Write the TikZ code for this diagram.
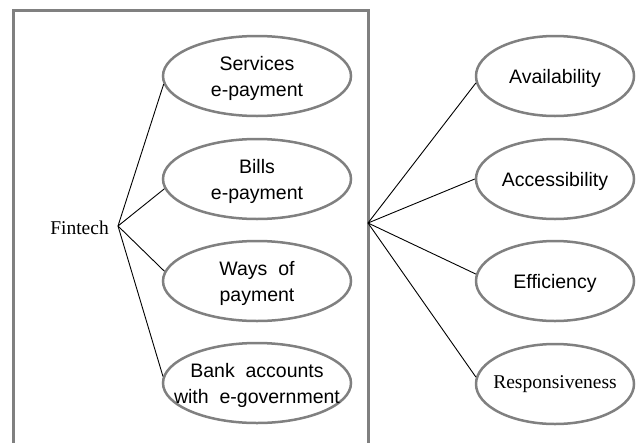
\documentclass[tikz,border=0pt]{standalone}
\usepackage{fontspec}
\setmainfont{Liberation Serif}
\newfontfamily\arialf{Liberation Sans}
\usetikzlibrary{shapes.geometric}
\definecolor{bordergray}{RGB}{128,128,128}
\begin{document}
\begin{tikzpicture}[x=1pt,y=-1pt,
  ell/.style={ellipse, draw=bordergray, line width=2.5pt, inner sep=0pt},
  leftell/.style={ell, minimum width=188pt, minimum height=80pt},
  rightell/.style={ell, minimum width=158pt, minimum height=80pt},
  txt/.style={inner sep=0pt, align=center, yshift=-2pt, font=\arialf\fontsize{19.5}{26}\selectfont},
  serif/.style={inner sep=0pt, font=\fontsize{19.5}{24}\selectfont},
  frame/.style={draw=bordergray, line width=3pt},
  conn/.style={draw=black, line width=0.9pt}
]
\useasboundingbox (0,0) rectangle (636,442);
\clip (0,0) rectangle (636,442);
\fill[white] (0,0) rectangle (636,442);
% frame (open at bottom)
\draw[frame] (13,450) -- (13,10) -- (368,10) -- (368,450);
% left ellipses
\node[leftell] (serv) at (257,76) {};
\node[txt] at (serv) {Services\\e-payment};
\node[leftell] (bills) at (257,179) {};
\node[txt] at (bills) {Bills\\e-payment};
\node[leftell] (ways) at (257,281) {};
\node[txt] at (ways) {Ways~~of\\payment};
\node[leftell] (bank) at (257,383) {};
\node[txt] at (bank) {Bank~~accounts\\with~~e-government};
% right ellipses
\node[rightell] (avail) at (555,76) {};
\node[txt] at (avail) {Availability};
\node[rightell] (access) at (555,179) {};
\node[txt] at (access) {Accessibility};
\node[rightell] (effic) at (555,281) {};
\node[txt] at (effic) {Efficiency};
\node[rightell] (resp) at (555,384) {};
\node[serif] at (resp) {Responsiveness};
% hubs
\node[serif, anchor=east] (fintech) at (109,228) {Fintech};
\coordinate (hubL) at (118,226);
\coordinate (hubR) at (368,223);
\draw[conn] (hubL) -- (serv.185);
\draw[conn] (hubL) -- (bills.186);
\draw[conn] (hubL) -- (ways.174);
\draw[conn] (hubL) -- (bank.176);
\draw[conn] (hubR) -- (avail.185);
\draw[conn] (hubR) -- (access.180);
\draw[conn] (hubR) -- (effic.175);
\draw[conn] (hubR) -- (resp.175);
\end{tikzpicture}
\end{document}
